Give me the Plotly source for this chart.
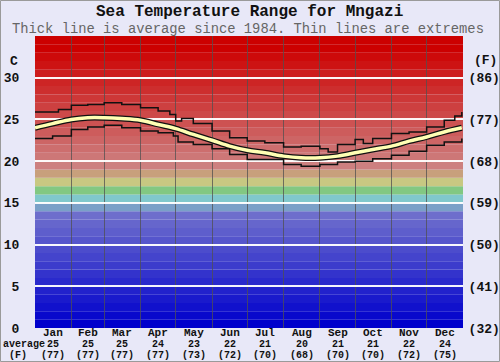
import plotly.graph_objects as go

# ---------------- data ----------------
days = [0, 15, 31, 45, 59, 74, 90, 105, 120, 135, 151, 166, 181, 196,
        212, 227, 243, 258, 273, 288, 304, 319, 334, 349, 364]
avg_c = [24.0, 24.5, 25.0, 25.2, 25.2, 25.1, 24.9, 24.4, 23.9, 23.2, 22.5, 21.8, 21.3, 21.0,
         20.6, 20.4, 20.4, 20.6, 21.0, 21.4, 21.8, 22.4, 22.9, 23.5, 24.0]

max_days = [0, 10, 20, 31, 45, 59, 74, 90, 105, 115, 120, 125, 135, 151, 166, 181, 196,
            212, 227, 243, 250, 258, 273, 280, 288, 304, 319, 334, 349, 358, 364]
max_c = [25.9, 25.9, 26.2, 26.7, 26.8, 27.0, 26.8, 26.4, 26.0, 25.6, 24.8, 25.1, 24.5, 23.6,
         22.8, 22.4, 22.2, 21.7, 21.8, 21.5, 21.1, 22.0, 22.6, 22.1, 22.7, 23.3, 23.5, 24.1,
         24.9, 25.4, 25.9]

min_days = [0, 15, 31, 45, 59, 74, 90, 105, 118, 122, 135, 151, 166, 181, 196,
            212, 227, 243, 258, 273, 288, 304, 319, 334, 349, 364]
min_c = [22.7, 23.0, 23.8, 24.1, 24.3, 24.0, 23.6, 23.4, 23.0, 22.3, 22.0, 21.5, 20.8, 20.2,
         20.2, 19.6, 19.4, 19.6, 19.9, 20.0, 20.3, 20.7, 21.2, 21.9, 22.3, 22.7]

months = ["Jan", "Feb", "Mar", "Apr", "May", "Jun", "Jul", "Aug", "Sep", "Oct", "Nov", "Dec"]
month_start = [0, 31, 59, 90, 120, 151, 181, 212, 243, 273, 304, 334, 365]
month_avg_c = [25, 25, 25, 24, 23, 22, 21, 20, 21, 21, 22, 24]
month_avg_f = [77, 77, 77, 77, 73, 72, 70, 68, 70, 70, 72, 75]

c_ticks = [0, 5, 10, 15, 20, 25, 30]
y_max = 35

# ---------------- colour bands ----------------
def band_color(t):
    if t >= 33:
        return "rgb(204,0,0)"
    if t >= 19:
        g = max(0, round(128 - (t - 19) * 9.1))
        return f"rgb(205,{g},{g})"
    special = {18: "rgb(200,160,124)", 17: "rgb(200,200,130)", 16: "rgb(130,200,130)",
               15: "rgb(128,200,204)", 14: "rgb(122,160,200)"}
    if t in special:
        return special[t]
    v = round(t * 8.5)
    return f"rgb({v},{v},204)"

shapes = []
for t in range(0, y_max):
    shapes.append(dict(type="rect", xref="x", yref="y", x0=0, x1=365, y0=t, y1=t + 1,
                       fillcolor=band_color(t), line=dict(width=0), layer="below"))

W, H = 500, 362
ml, mr, mt, mb = 35, 37, 36, 34
pw, ph = W - ml - mr, H - mt - mb
shapes.append(dict(type="rect", xref="paper", yref="paper",
                   x0=-(ml - 0.5) / pw, x1=1 + (mr - 0.5) / pw,
                   y0=-(mb - 0.5) / ph, y1=1 + (mt - 0.5) / ph,
                   line=dict(color="#9a9a9a", width=1), fillcolor="rgba(0,0,0,0)", layer="below"))

FONT = "Liberation Mono, Courier New, monospace"

fig = go.Figure()
for xs, ys in [(max_days, max_c), (min_days, min_c)]:
    fig.add_trace(go.Scatter(x=xs, y=ys, mode="lines", line=dict(color="#111", width=1.5, shape="hv"),
                             hoverinfo="skip", showlegend=False))
fig.add_trace(go.Scatter(x=days, y=avg_c, mode="lines", line=dict(color="#111", width=6, shape="spline"),
                         hoverinfo="skip", showlegend=False))
fig.add_trace(go.Scatter(x=days, y=avg_c, mode="lines", line=dict(color="#ffffb4", width=3.5, shape="spline"),
                         hoverinfo="skip", showlegend=False))
fig.add_trace(go.Scatter(x=[0], y=[0], yaxis="y2", mode="markers", marker=dict(opacity=0),
                         hoverinfo="skip", showlegend=False))

centers = [(month_start[i] + month_start[i + 1]) / 2 for i in range(12)]

def paper_y(py):
    return (H - mb - py) / ph

annotations = [
    dict(text="<b>Sea Temperature Range for Mngazi</b>", xref="paper", yref="paper",
         x=(249 - ml) / pw, y=paper_y(12), xanchor="center", yanchor="middle", showarrow=False,
         font=dict(size=16, family=FONT, color="#111")),
    dict(text="Thick line is average since 1984. Thin lines are extremes", xref="paper", yref="paper",
         x=(248 - ml) / pw, y=paper_y(29), xanchor="center", yanchor="middle", showarrow=False,
         font=dict(size=13.8, family=FONT, color="#666")),
    dict(text="<b>C</b>", xref="paper", yref="paper", x=(14 - ml) / pw, y=paper_y(61),
         xanchor="center", yanchor="middle", showarrow=False, font=dict(size=13, family=FONT)),
    dict(text="<b>(F)</b>", xref="paper", yref="paper", x=(485 - ml) / pw, y=paper_y(60),
         xanchor="center", yanchor="middle", showarrow=False, font=dict(size=13, family=FONT)),
    dict(text="<b>average</b>", xref="paper", yref="paper", x=(24 - ml) / pw, y=paper_y(345),
         xanchor="center", yanchor="middle", showarrow=False, font=dict(size=10, family=FONT)),
    dict(text="<b>(F)</b>", xref="paper", yref="paper", x=(18 - ml) / pw, y=paper_y(355.5),
         xanchor="center", yanchor="middle", showarrow=False, font=dict(size=10, family=FONT)),
]
for cx, m, c, f in zip(centers, months, month_avg_c, month_avg_f):
    for txt, py, sz in [(m, 333, 11), (str(c), 345, 10), (f"({f})", 355.5, 10)]:
        annotations.append(dict(text=f"<b>{txt}</b>", xref="x", yref="paper", x=cx, y=paper_y(py),
                                xanchor="center", yanchor="middle", showarrow=False,
                                font=dict(size=sz, family=FONT, color="#111")))

fig.update_layout(
    width=W, height=H,
    margin=dict(l=ml, r=mr, t=mt, b=mb, autoexpand=False),
    paper_bgcolor="#e8e8f8", plot_bgcolor="#e8e8f8",
    shapes=shapes,
    font=dict(family=FONT, color="#111"),
    xaxis=dict(range=[0, 365], tickmode="array", tickvals=[], showticklabels=False,
               showgrid=False, zeroline=False, ticks="", automargin=False,
               minor=dict(tickmode="array", tickvals=month_start[1:-1], showgrid=True,
                          gridcolor="rgba(80,80,80,0.75)", gridwidth=1, ticks="")),
    yaxis=dict(range=[0, y_max], tickmode="array", tickvals=c_ticks,
               ticktext=[f"<b>{v}</b>" for v in c_ticks], showgrid=True,
               gridcolor="rgba(255,255,255,0.95)", gridwidth=2, zeroline=False,
               ticks="outside", ticklen=12, tickcolor="rgba(0,0,0,0)", automargin=False,
               tickfont=dict(size=13, family=FONT)),
    yaxis2=dict(range=[0, y_max], overlaying="y", side="right", tickmode="array", tickvals=c_ticks,
                ticktext=[f"<b>({round(v * 9 / 5 + 32)})</b>" for v in c_ticks], showgrid=False,
                zeroline=False, automargin=False, ticks="outside", ticklen=2,
                tickcolor="rgba(0,0,0,0)", tickfont=dict(size=13, family=FONT)),
    annotations=annotations,
)

fig.write_html("out.html", config={"displayModeBar": False, "staticPlot": True},
               post_script="document.body.style.margin='0px';document.body.style.overflow='hidden';")
